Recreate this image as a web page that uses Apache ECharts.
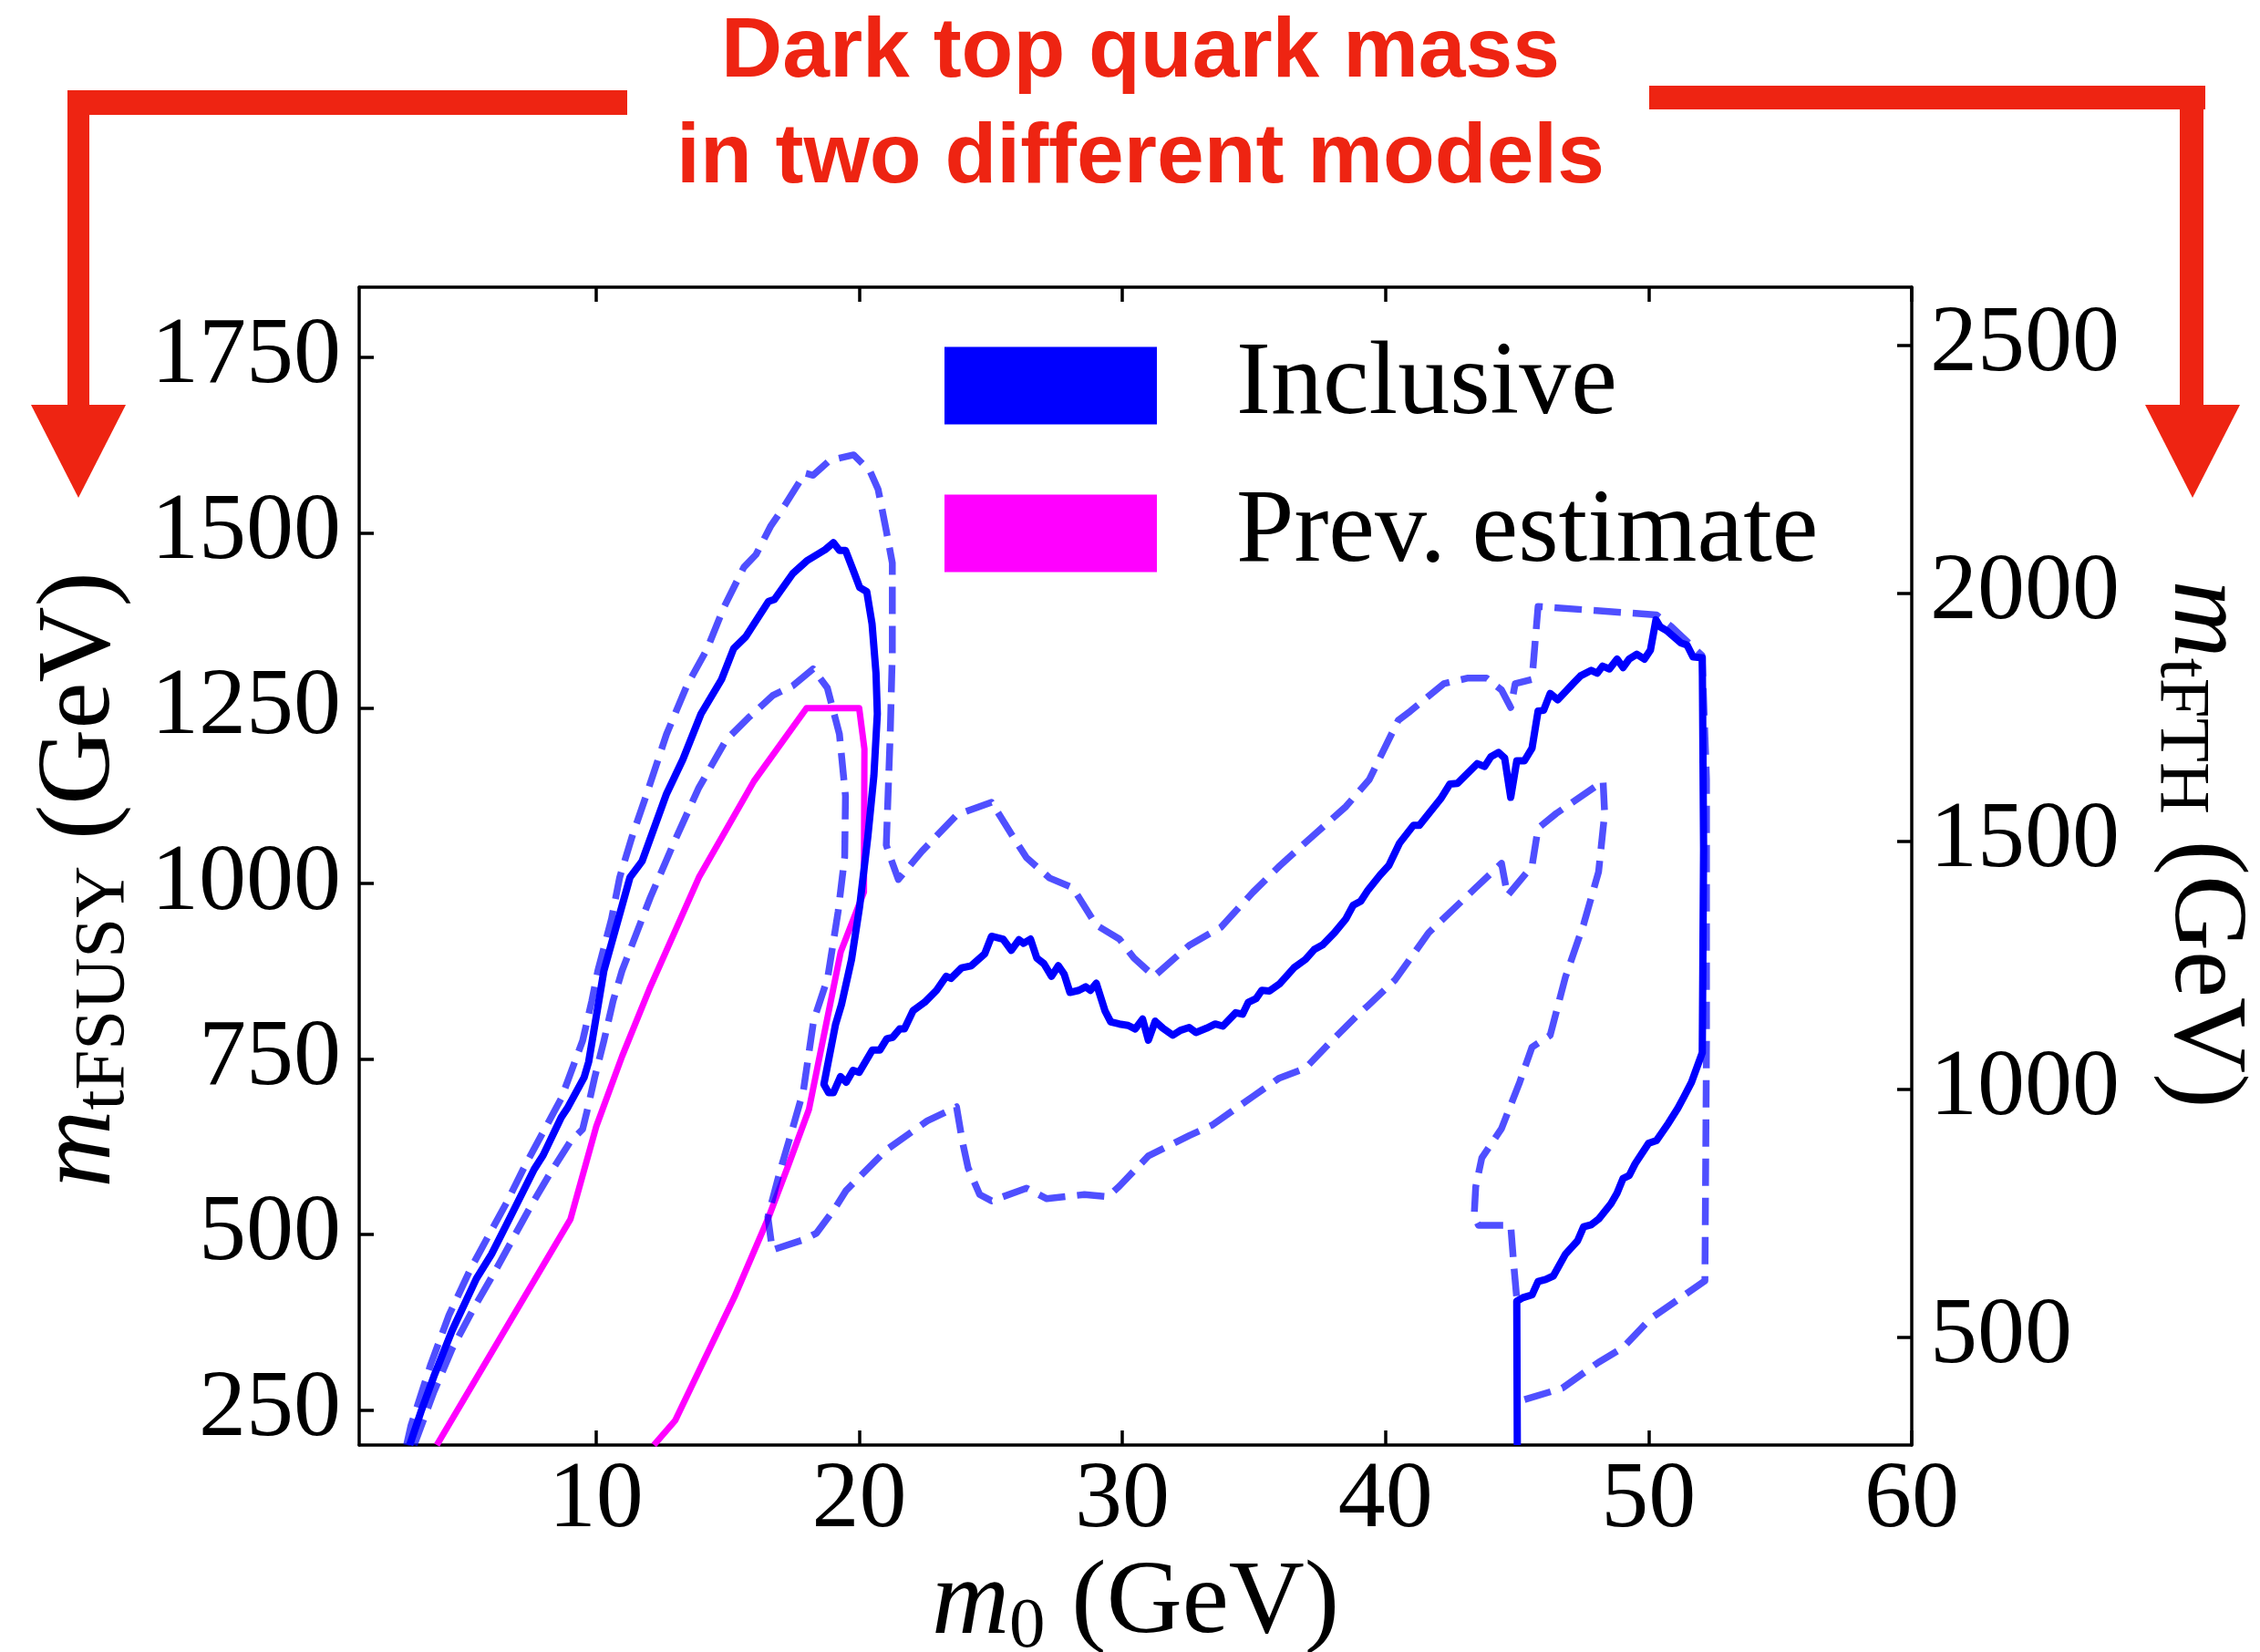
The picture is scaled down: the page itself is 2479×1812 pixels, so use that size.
<!DOCTYPE html>
<html>
<head>
<meta charset="utf-8">
<script src="https://cdn.jsdelivr.net/npm/echarts@6/dist/echarts.min.js"></script>
<style>
html, body { margin: 0; padding: 0; background: #ffffff; }
#chart { width: 2479px; height: 1812px; }
</style>
</head>
<body>
<div id="chart"></div>
<script>
// Contours in the (m0, m_tFSUSY) plane, GeV. Points are [m0, m_tFSUSY].
const inclusive = [
  [2.92,200],[3.37,250],[3.84,298],[4.53,363],[5.45,437],[6.03,472],[6.61,515],[7.65,593],[7.99,613],
  [8.68,667],[8.91,680],[9.55,724],[9.72,746],[10.01,811],[10.30,876],[11.29,1009],[11.75,1032],
  [12.68,1128],[13.30,1177],[13.99,1242],[14.77,1291],[15.23,1335],[15.69,1352],[16.55,1402],[16.78,1405],
  [17.48,1442],[18.01,1460],[18.71,1476],[19.02,1486],[19.25,1475],[19.48,1475],[19.79,1445],[20.02,1422],
  [20.29,1416],[20.49,1370],[20.64,1300],[20.69,1242],[20.56,1154],[20.33,1067],[20.02,968],[19.71,892],
  [19.33,828],[19.10,799],[18.84,749],[18.66,714],[18.84,702],[19.02,702],[19.29,725],[19.51,717],
  [19.77,734],[20.00,731],[20.50,763],[20.79,763],[21.05,779],[21.27,781],[21.54,793],[21.72,793],
  [22.05,819],[22.49,831],[22.94,848],[23.31,868],[23.49,865],[23.89,880],[24.26,883],[24.77,900],
  [25.03,925],[25.47,921],[25.78,905],[26.07,920],[26.25,915],[26.51,921],[26.75,894],[27.02,886],
  [27.31,868],[27.57,883],[27.79,871],[28.01,845],[28.35,848],[28.61,853],[28.79,848],[29.01,858],
  [29.34,819],[29.56,803],[29.89,800],[30.22,798],[30.49,793],[30.77,807],[30.99,777],[31.25,804],
  [31.54,794],[31.92,784],[32.21,791],[32.54,795],[32.80,788],[33.20,794],[33.53,800],[33.82,797],
  [34.31,816],[34.57,814],[34.79,831],[35.08,836],[35.30,848],[35.59,847],[35.97,857],[36.52,880],
  [36.96,892],[37.29,906],[37.62,913],[38.06,930],[38.50,950],[38.77,969],[39.06,975],[39.34,991],
  [39.79,1012],[40.13,1026],[40.54,1058],[41.06,1083],[41.29,1083],[42.10,1121],[42.45,1142],[42.74,1143],
  [43.49,1171],[43.77,1167],[44.01,1181],[44.30,1187],[44.53,1179],[44.76,1123],[44.99,1175],[45.28,1175],
  [45.57,1193],[45.80,1246],[46.01,1247],[46.26,1271],[46.55,1262],[47.18,1287],[47.41,1296],[47.82,1304],
  [48.05,1300],[48.25,1310],[48.51,1306],[48.80,1320],[49.03,1308],[49.26,1320],[49.55,1327],[49.84,1320],
  [50.07,1333],[50.28,1376],[50.44,1366],[50.71,1360],[51.23,1343],[51.46,1340],[51.69,1323],[52.04,1322],
  [52.09,1050],[52.04,759],[51.63,717],[51.34,696],[51.11,680],[50.76,659],[50.30,634],[50.00,630],
  [49.49,601],[49.26,584],[49.03,580],[48.80,559],[48.57,544],[48.10,522],[47.82,514],[47.53,511],
  [47.30,491],[46.84,472],[46.38,441],[46.09,436],[45.80,433],[45.57,414],[45.22,410],[44.99,405],[45.01,200]
];

const inclusiveUpper = [
  [2.80,200],[2.97,228],[3.72,315],[4.41,385],[5.22,450],[5.91,498],[6.61,546],[7.30,598],[7.99,646],
  [8.68,694],[9.32,759],[9.49,776],[9.84,833],[10.07,876],[10.59,950],[10.90,1009],[11.37,1067],
  [11.90,1125],[12.68,1213],[13.45,1282],[14.23,1335],[14.85,1393],[15.62,1451],[16.08,1469],[16.63,1509],
  [17.17,1539],[17.94,1585],[18.25,1582],[18.87,1603],[19.79,1611],[20.41,1588],[20.72,1562],[21.03,1503],
  [21.26,1457],[21.26,1329],[21.18,1213],[21.03,1055],[21.18,1038],[21.49,1006],[22.38,1046],[23.71,1098],
  [25.03,1116],[25.91,1063],[26.36,1037],[27.24,1008],[28.12,994],[29.01,941],[29.89,921],[30.44,894],
  [31.21,868],[32.54,912],[33.75,938],[34.97,988],[35.97,1025],[37.18,1066],[38.50,1110],[39.38,1148],
  [40.49,1233],[40.95,1246],[42.22,1285],[43.14,1293],[43.84,1293],[44.41,1276],[44.76,1251],[44.93,1285],
  [45.57,1291],[45.80,1395],[50.30,1383],[50.87,1366],[52.03,1325],[52.20,1149],[52.20,776],[52.14,434],
  [50.07,380],[49.03,339],[48.10,318],[46.72,281],[45.22,264]
];

const inclusiveLower = [
  [3.09,200],[3.84,276],[4.53,337],[5.34,394],[6.14,446],[6.84,494],[7.53,541],[8.22,585],[9.03,633],
  [9.49,650],[9.66,676],[9.95,724],[10.30,776],[10.65,833],[10.99,876],[12.06,980],[12.99,1061],
  [13.91,1137],[14.95,1205],[15.78,1236],[16.71,1268],[17.48,1282],[18.25,1306],[18.79,1279],[19.25,1213],
  [19.48,1125],[19.45,1038],[19.20,960],[18.80,865],[18.27,805],[17.88,705],[17.46,650],[16.99,590],
  [16.53,525],[16.70,478],[17.92,493],[18.38,502],[19.07,537],[19.51,563],[21.05,621],[22.59,662],
  [23.70,682],[23.92,633],[24.14,595],[24.58,557],[25.03,548],[26.36,566],[27.13,551],[28.56,557],
  [29.45,554],[29.89,569],[30.99,612],[32.54,641],[33.42,656],[34.97,697],[35.97,723],[36.96,737],
  [37.85,772],[38.95,813],[39.33,826],[40.37,863],[41.64,930],[43.37,992],[44.41,1029],[44.64,983],
  [45.57,1025],[45.80,1079],[46.49,1100],[48.27,1146],[48.33,1100],[48.10,1017],[47.53,942],[46.84,867],
  [46.26,784],[45.57,767],[45.10,717],[44.41,651],[43.66,609],[43.43,568],[43.37,526],[43.54,513],
  [44.76,513],[44.88,455],[44.99,409]
];

const prevEstimate = [
  [3.95,200],[9.03,522],[10.01,654],[10.99,754],[12.03,850],[13.91,1009],[16.00,1146],[18.00,1250],
  [20.00,1250],[20.20,1192],[20.18,988],[19.30,903],[18.09,678],[17.30,598],[16.53,522],[15.26,411],
  [13.01,235],[12.20,200]
];

const xTicks = [10, 20, 30, 40, 50, 60];
const leftTicks = [250, 500, 750, 1000, 1250, 1500, 1750];
const rightTicks = [500, 1000, 1500, 2000, 2500];
const xRange = [1, 60];
const leftRange = [200, 1850];
// m_tFTH = sqrt(2) * m_tFSUSY, so the right scale is the left one stretched by sqrt(2)
const rightRange = leftRange.map(v => v * Math.SQRT2);

const SERIF = 'Liberation Serif';
const RED = '#EE2412';
const BLUE = '#0000FF';
const BLUE_DASH = 'rgba(0,0,255,0.69)';
const MAGENTA = '#FF00FF';

const nameRich = {
  m: { fontFamily: SERIF, fontStyle: 'italic', fontSize: 118, lineHeight: 130, color: '#000' },
  s: { fontFamily: SERIF, fontSize: 79, lineHeight: 62, verticalAlign: 'bottom', color: '#000' },
  u: { fontFamily: SERIF, fontSize: 115, lineHeight: 130, color: '#000' }
};

const frameLine = { show: true, onZero: false, lineStyle: { color: '#000', width: 3.5 } };
const tickStyle = { color: '#000', width: 3.5 };
const plainNumber = v => String(Math.round(v));
const labelStyle = { fontFamily: SERIF, fontSize: 104, color: '#000', formatter: plainNumber };
const dashPattern = [30, 13];

const chart = echarts.init(document.getElementById('chart'), null, { renderer: 'canvas' });

chart.setOption({
  animation: false,
  backgroundColor: '#ffffff',
  grid: { left: 394, right: 382, top: 315, bottom: 227, containLabel: false, outerBoundsMode: 'none' },
  legend: {
    data: [{ name: 'Inclusive', icon: 'rect' }, { name: 'Prev. estimate', icon: 'rect' }],
    orient: 'vertical',
    left: 1031,
    top: 361,
    itemWidth: 233,
    itemHeight: 85,
    itemGap: 48,
    selectedMode: false,
    itemStyle: { borderWidth: 0 },
    textStyle: { fontFamily: SERIF, fontSize: 114, lineHeight: 114, color: '#000', padding: [0, 0, 0, 82] }
  },
  xAxis: [
    {
      type: 'value', position: 'bottom', min: xRange[0], max: xRange[1],
      axisLine: frameLine,
      axisTick: { show: true, inside: true, length: 16, lineStyle: tickStyle, customValues: xTicks },
      axisLabel: Object.assign({ show: true, margin: 10, customValues: xTicks }, labelStyle),
      splitLine: { show: false },
      name: '{m|m}{s|0}{u| (GeV)}',
      nameLocation: 'middle',
      nameGap: 110,
      nameMoveOverlap: false,
      nameTextStyle: { rich: nameRich }
    },
    {
      type: 'value', position: 'top', min: xRange[0], max: xRange[1],
      axisLine: frameLine,
      axisTick: { show: true, inside: true, length: 16, lineStyle: tickStyle, customValues: xTicks },
      axisLabel: { show: false },
      splitLine: { show: false }
    }
  ],
  yAxis: [
    {
      type: 'value', position: 'left', min: leftRange[0], max: leftRange[1],
      axisLine: frameLine,
      axisTick: { show: true, inside: true, length: 16, lineStyle: tickStyle, customValues: leftTicks },
      axisLabel: Object.assign({ show: true, margin: 20, customValues: leftTicks }, labelStyle),
      splitLine: { show: false },
      name: '{m|m}{s|tFSUSY}{u| (GeV)}',
      nameLocation: 'middle',
      nameRotate: 90,
      nameGap: 240,
      nameMoveOverlap: false,
      nameTextStyle: { rich: nameRich, padding: [0, 30, 0, 0] }
    },
    {
      type: 'value', position: 'right', min: rightRange[0], max: rightRange[1],
      axisLine: frameLine,
      axisTick: { show: true, inside: true, length: 16, lineStyle: tickStyle, customValues: rightTicks },
      axisLabel: Object.assign({ show: true, margin: 20, customValues: rightTicks }, labelStyle),
      splitLine: { show: false },
      name: '{m|m}{s|tFTH}{u| (GeV)}',
      nameLocation: 'middle',
      nameRotate: -90,
      nameGap: 255,
      nameMoveOverlap: false,
      nameTextStyle: { rich: nameRich, padding: [0, 48, 0, 0] }
    }
  ],
  series: [
    {
      name: 'Prev. estimate', type: 'line', data: prevEstimate, color: MAGENTA,
      showSymbol: false, symbol: 'none', clip: true, silent: true,
      lineStyle: { color: MAGENTA, width: 7, join: 'round' }
    },
    {
      name: 'Inclusive', type: 'line', data: inclusive, color: BLUE,
      showSymbol: false, symbol: 'none', clip: true, silent: true,
      lineStyle: { color: BLUE, width: 8, join: 'round' }
    },
    {
      name: 'Inclusive +1σ', type: 'line', data: inclusiveUpper, color: BLUE_DASH,
      showSymbol: false, symbol: 'none', clip: true, silent: true,
      lineStyle: { color: BLUE_DASH, width: 7.5, type: dashPattern, cap: 'butt', join: 'round' }
    },
    {
      name: 'Inclusive -1σ', type: 'line', data: inclusiveLower, color: BLUE_DASH,
      showSymbol: false, symbol: 'none', clip: true, silent: true,
      lineStyle: { color: BLUE_DASH, width: 7.5, type: dashPattern, cap: 'butt', join: 'round' }
    }
  ],
  graphic: [
    // left bracket arrow
    { type: 'rect', shape: { x: 74, y: 99, width: 614, height: 27 }, style: { fill: RED } },
    { type: 'rect', shape: { x: 74, y: 99, width: 24, height: 350 }, style: { fill: RED } },
    { type: 'polygon', shape: { points: [[34, 444], [138, 444], [86, 546]] }, style: { fill: RED } },
    // right bracket arrow
    { type: 'rect', shape: { x: 1809, y: 94, width: 610, height: 26 }, style: { fill: RED } },
    { type: 'rect', shape: { x: 2391, y: 94, width: 26, height: 355 }, style: { fill: RED } },
    { type: 'polygon', shape: { points: [[2353, 444], [2457, 444], [2405, 546]] }, style: { fill: RED } },
    // headline
    {
      type: 'text', x: 1251, y: 58,
      style: {
        text: 'Dark top quark mass', fill: RED, align: 'center', verticalAlign: 'middle',
        font: 'bold 93px "Liberation Sans", Arial, sans-serif'
      }
    },
    {
      type: 'text', x: 1251, y: 174,
      style: {
        text: 'in two different models', fill: RED, align: 'center', verticalAlign: 'middle',
        font: 'bold 93px "Liberation Sans", Arial, sans-serif'
      }
    }
  ]
});
</script>
</body>
</html>
